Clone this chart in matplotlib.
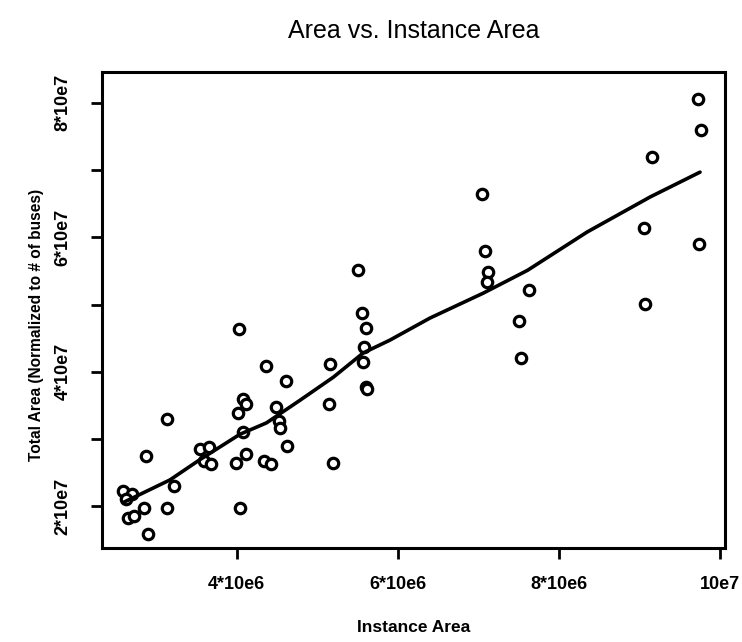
import matplotlib
matplotlib.use("Agg")
import matplotlib.pyplot as plt

# Scatter data (x in units of 1e6, y in units of 1e7)
inst_area_m = [2.59, 2.70, 2.63, 2.65, 2.72, 2.85, 2.90, 2.87, 3.13, 3.13, 3.22,
               3.55, 3.66, 3.60, 3.68, 3.99, 4.04, 4.03, 4.08, 4.11, 4.01, 4.08, 4.12,
               4.36, 4.61, 4.49, 4.53, 4.54, 4.63, 4.34, 4.42,
               5.16, 5.14, 5.19, 5.51, 5.56, 5.60, 5.58, 5.57, 5.61, 5.62,
               7.04, 7.08, 7.12, 7.10, 7.63, 7.50, 7.53,
               9.72, 9.76, 9.15, 9.06, 9.74, 9.07]
total_area_e7 = [2.23, 2.18, 2.10, 1.82, 1.85, 1.98, 1.58, 2.74, 3.29, 1.97, 2.30,
                 2.85, 2.88, 2.67, 2.63, 2.64, 1.98, 4.63, 3.59, 3.52, 3.38, 3.10, 2.78,
                 4.09, 3.86, 3.48, 3.27, 3.16, 2.89, 2.67, 2.63,
                 4.11, 3.52, 2.65, 5.51, 4.87, 4.65, 4.37, 4.14, 3.77, 3.74,
                 6.65, 5.79, 5.49, 5.33, 5.21, 4.76, 4.21,
                 8.06, 7.59, 7.19, 6.14, 5.90, 5.01]

# Smooth (lowess-like) curve
curve_x_m = [2.60, 3.17, 3.54, 4.04, 4.37, 4.79, 5.20, 5.57, 5.90, 6.40, 7.06, 7.61, 8.35, 9.13, 9.75]
curve_y_e7 = [2.06, 2.39, 2.69, 3.07, 3.24, 3.58, 3.92, 4.28, 4.47, 4.80, 5.17, 5.51, 6.08, 6.60, 6.97]

xticks_m = [4, 6, 8, 10]
xtick_labels = ["4*10e6", "6*10e6", "8*10e6", "10e7"]
yticks_e7 = [2, 3, 4, 5, 6, 7, 8]
ytick_labels = ["2*10e7", "", "4*10e7", "", "6*10e7", "", "8*10e7"]

title = "Area vs. Instance Area"
xlabel = "Instance Area"
ylabel = "Total Area (Normalized to # of buses)"

plt.rcParams['font.family'] = ['Liberation Sans', 'DejaVu Sans']

fig = plt.figure(figsize=(7.42, 6.42), dpi=100)
ax = fig.add_axes([102/742, 1 - 548/642, (725-102)/742, (548-72)/642])

x = [v * 1e6 for v in inst_area_m]
y = [v * 1e7 for v in total_area_e7]
cx = [v * 1e6 for v in curve_x_m]
cy = [v * 1e7 for v in curve_y_e7]

ax.plot(x, y, linestyle='none', marker='o', markersize=7.5, markerfacecolor='white',
        markeredgecolor='black', markeredgewidth=2.3)
ax.plot(cx, cy, color='black', linewidth=2.6, solid_capstyle='round',
        solid_joinstyle='round')

ax.set_xlim(2.328e6, 10.06e6)
ax.set_ylim(1.378e7, 8.46e7)

ax.set_xticks([v * 1e6 for v in xticks_m])
ax.set_xticklabels(xtick_labels, fontsize=13, fontweight='bold')
ax.set_yticks([v * 1e7 for v in yticks_e7])
ax.set_yticklabels(ytick_labels, fontsize=13, fontweight='bold', rotation=90, va='center')

ax.tick_params(axis='both', direction='out', length=8, width=2, color='black')
ax.tick_params(axis='x', pad=12)
ax.tick_params(axis='y', pad=14)
for s in ax.spines.values():
    s.set_linewidth(2.2)

fig.text(0.5 * (102 + 725) / 742, 1 - 31/642, title, ha='center', va='center', fontsize=18)
fig.text(0.5 * (102 + 725) / 742, 1 - 628/642, xlabel, ha='center', va='center',
         fontsize=12.5, fontweight='bold')
fig.text(37/742, 1 - 325/642, ylabel, ha='center', va='center', rotation=90,
         fontsize=11.2, fontweight='bold')

fig.savefig("out.png", dpi=100)
